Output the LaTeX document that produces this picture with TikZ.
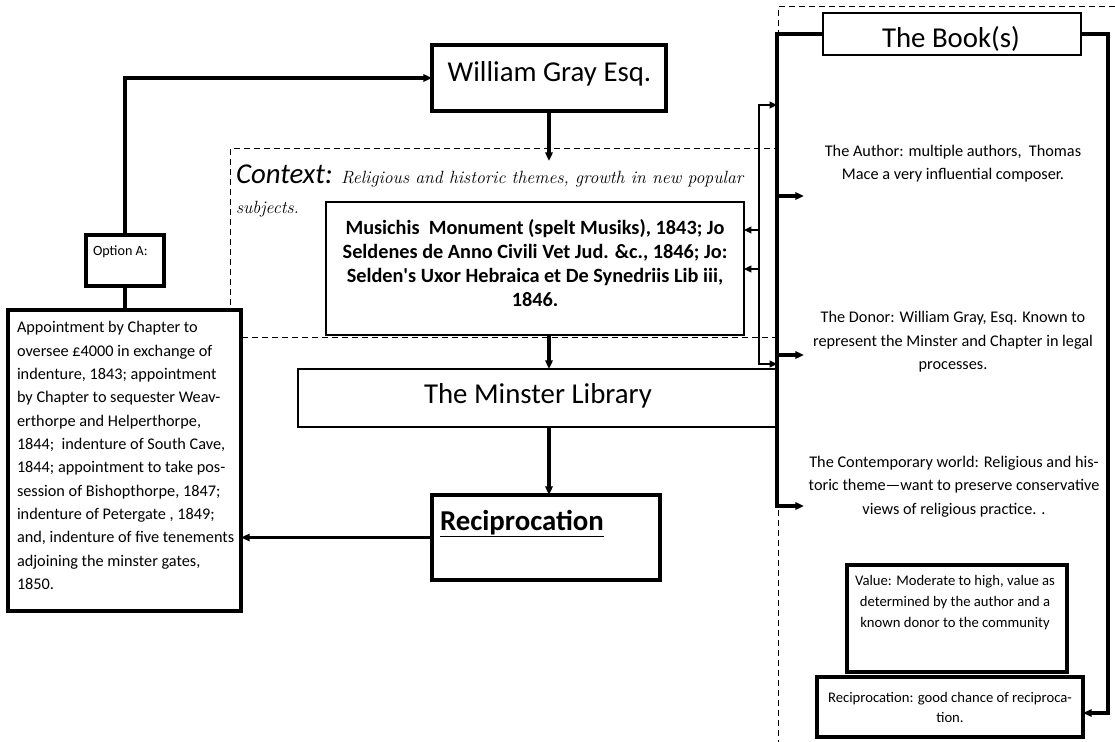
\documentclass[tikz,border=0pt]{standalone}
\usepackage{fontspec}
\newfontfamily\calfont{Carlito}
\usetikzlibrary{arrows.meta}

\begin{document}
\begin{tikzpicture}[x=0.75pt,y=-0.75pt,
  every node/.style={inner sep=0pt, outer sep=0pt},
  boxframe/.style={draw, fill=white, rectangle, line width=#1},
  boxframe/.default=2.5pt,
  tip/.style={-{Triangle[length=6.5pt,width=5.5pt]}},
  conn/.style={line width=2.5pt, tip},
  plainline/.style={line width=2.5pt},
  thinconn/.style={line width=1.7pt, -{Triangle[length=5.5pt,width=5pt]}},
  dashline/.style={line width=0.75pt, dash pattern=on 4.5pt off 3pt},
  titlefont/.style={font=\calfont\fontsize{21.6pt}{26pt}\selectfont},
  bodyfont/.style={font=\calfont\fontsize{12.2pt}{17.5pt}\selectfont},
  smallfont/.style={font=\calfont\fontsize{11pt}{15.75pt}\selectfont}
]
% page
\fill[white] (0,0) rectangle (1115,742);
\useasboundingbox (0,0) rectangle (1115,742);

% dashed frames
\draw[dashline] (230,149) rectangle (777,337);
\draw[dashline] (1115,7) -- (778,7) -- (778,742);

% boxes
\node[boxframe, minimum width=175.5pt, minimum height=49.5pt] (gray) at (549,78) {};
\node[boxframe=2.1pt, minimum width=313.5pt, minimum height=99.75pt] (mus) at (535,268.5) {};
\node[boxframe=1.6pt, minimum width=359.25pt, minimum height=43.5pt] (minster) at (537.5,398) {};
\node[boxframe, minimum width=171pt, minimum height=63.75pt] (recip) at (546,537.5) {};
\node[boxframe, minimum width=58.5pt, minimum height=38.25pt] (optA) at (125,260.5) {};
\node[boxframe, minimum width=174.75pt, minimum height=225.75pt] (leftbox) at (124.5,460.5) {};
\node[boxframe=2.1pt, minimum width=193.5pt, minimum height=31.5pt] (book) at (952,34) {};
\node[boxframe=3pt, minimum width=165pt, minimum height=80.25pt] (value) at (957,618.5) {};
\node[boxframe=3pt, minimum width=199.5pt, minimum height=45pt] (recip2) at (950,707) {};

% box texts
\node[titlefont, anchor=base] (grayT) at (549.5,82) {William Gray Esq.};
\node[titlefont, anchor=base] (minsterT) at (538,403) {The Minster Library};
\node[titlefont, anchor=base] (bookT) at (951,48) {The Book(s)};
\node[font=\calfont\bfseries\fontsize{21.6pt}{26pt}\selectfont, anchor=base west] (recipT) at (440,530) {\underline{Reciprocation}};
\node[font=\calfont\fontsize{10.6pt}{13pt}\selectfont, anchor=base west] (optAT) at (93,255) {Option A:};

\node[anchor=base west] (ctxT) at (236,183)
  {{\calfont\itshape\fontsize{21.6pt}{26pt}\selectfont Context:}{\itshape\fontsize{13.3pt}{16pt}\selectfont{} Religious and historic themes, growth in new popular}};
\node[anchor=base west, font=\itshape\fontsize{13.3pt}{16pt}\selectfont] (ctxT2) at (236,214) {subjects.};

\node[font=\calfont\bfseries\fontsize{15.2pt}{18pt}\selectfont, align=center] (musT) at (535,262.7)
  {Musichis\ \ Monument (spelt Musiks), 1843; Jo\\
   Seldenes de Anno Civili Vet Jud. \&c., 1846; Jo:\\
   Selden\textquotesingle s Uxor Hebraica et De Synedriis Lib iii,\\
   1846.};

\node[bodyfont, align=left, anchor=west] (leftT) at (17,455.5)
  {Appointment by Chapter to\\
   oversee £4000 in exchange of\\
   indenture, 1843; appointment\\
   by Chapter to sequester Weav-\\
   erthorpe and Helperthorpe,\\
   1844;\ \ indenture of South Cave,\\
   1844; appointment to take pos-\\
   session of Bishopthorpe, 1847;\\
   indenture of Petergate , 1849;\\
   and, indenture of five tenements\\
   adjoining the minster gates,\\
   1850.};

\node[bodyfont, align=center] (authT) at (953,163.5)
  {The Author: multiple authors,\ \ Thomas\\ Mace a very influential composer.};
\node[bodyfont, align=center] (donorT) at (953,341.7)
  {The Donor: William Gray, Esq. Known to\\ represent the Minster and Chapter in legal\\ processes.};
\node[bodyfont, align=center] (worldT) at (954,486.7)
  {The Contemporary world: Religious and his-\\ toric theme—want to preserve conservative\\ views of religious practice. .};
\node[smallfont, align=center] (valueT) at (955,603)
  {Value: Moderate to high, value as\\ determined by the author and a\\ known donor to the community};
\node[font=\calfont\fontsize{11pt}{15pt}\selectfont, align=center] (recip2T) at (950,707)
  {Reciprocation: good chance of reciproca-\\ tion.};

% connectors on the left and centre
\coordinate (ctxIn) at (549,161);
\draw[conn] (optA.north) |- (gray.west);
\draw[plainline] (optA.south) -- (optA.south |- leftbox.north);
\draw[conn] (gray.south) -- (ctxIn);
\draw[conn] (mus.south -| gray.south) -- (minster.north -| gray.south);
\draw[conn] (minster.south -| gray.south) -- (recip.north -| gray.south);
\draw[conn] (recip.west) -- (recip.west -| leftbox.east);

% spine beside the book column
\coordinate (mTop) at (777,34);
\coordinate (mA) at (777,196);
\coordinate (mD) at (777,355);
\coordinate (mBot) at (777,506);
\coordinate (tipA) at (804,196);
\coordinate (tipD) at (804,355);
\coordinate (tipC) at (804,506);
\draw[conn] (book.west) -- (mTop) -- (mBot) -- (tipC);
\draw[conn] (mA) -- (tipA);
\draw[conn] (mD) -- (tipD);

% inner loop feeding the title list
\coordinate (lTop) at (759,105);
\coordinate (lBot) at (759,364);
\coordinate (lA) at (759,230);
\coordinate (lB) at (759,269);
\draw[line width=1.7pt, {Triangle[length=5.5pt,width=5pt]}-{Triangle[length=5.5pt,width=5pt]}]
  (lTop -| mTop) -- (lTop) -- (lBot) -- (lBot -| mTop);
\draw[thinconn] (lA) -- (lA -| mus.east);
\draw[thinconn] (lB) -- (lB -| mus.east);

% right-hand return to the reciprocation note
\draw[conn] (book.east) -- ++(27,0) |- ([yshift=-4.5pt]recip2.east);
\end{tikzpicture}
\end{document}
